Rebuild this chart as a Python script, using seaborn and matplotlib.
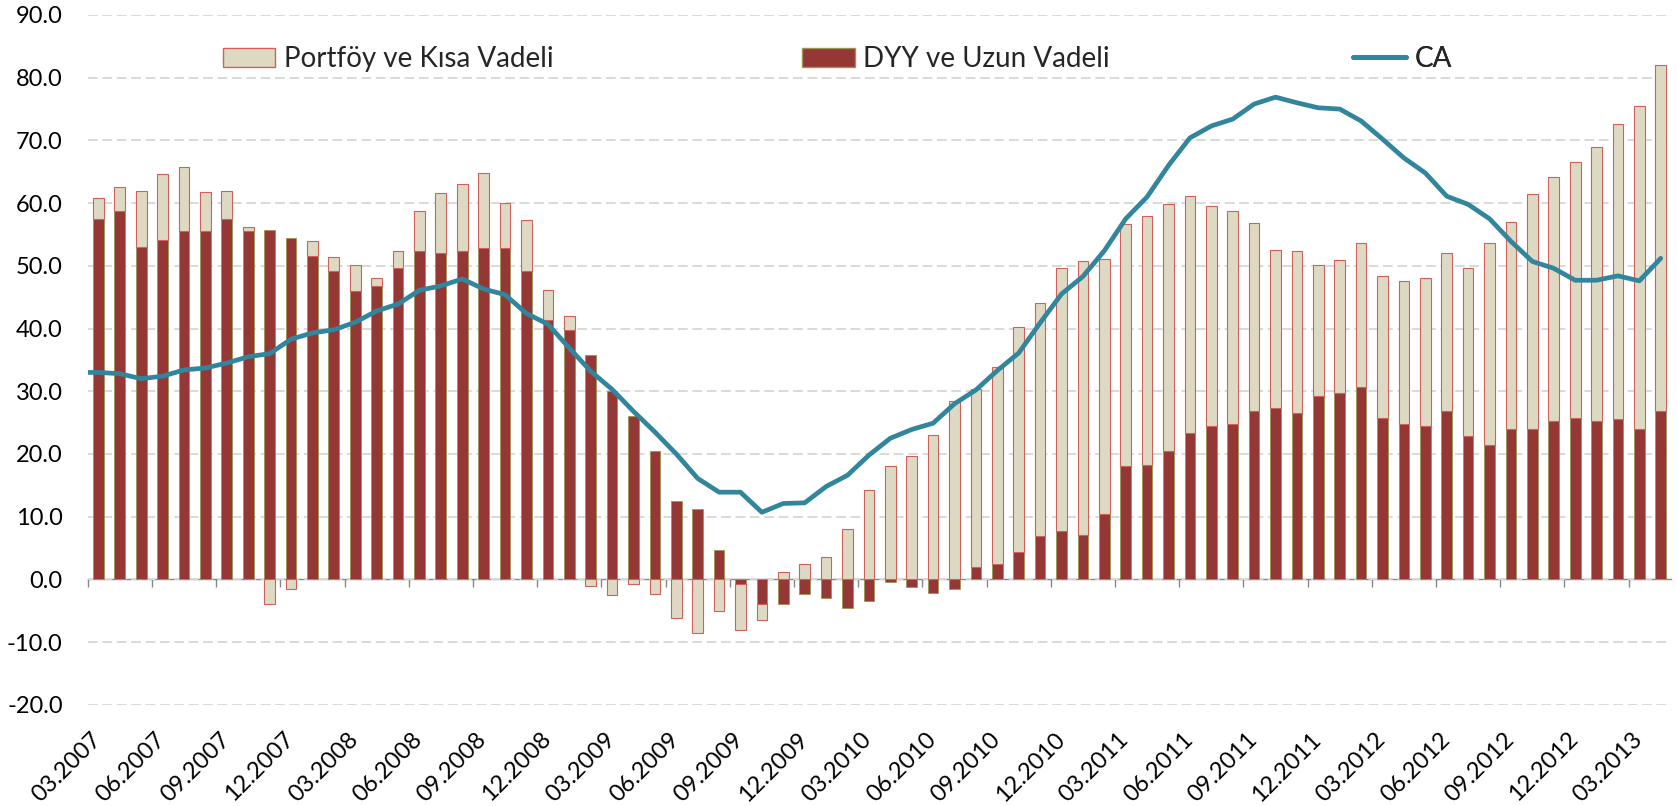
import numpy as np
import pandas as pd
import matplotlib
matplotlib.use('Agg')
import matplotlib.pyplot as plt
import matplotlib.transforms as mtransforms
import seaborn as sns
from matplotlib.patches import Patch
from matplotlib.lines import Line2D

# monthly categories 03.2007 - 04.2013
months = pd.period_range('2007-03', '2013-04', freq='M').strftime('%m.%Y').tolist()

# DYY ve Uzun Vadeli
dyy = [57.4, 58.8, 53.0, 54.1, 55.6, 55.6, 57.4, 55.6, 55.7, 54.4,
       51.6, 49.2, 46.0, 46.8, 49.7, 52.3, 52.1, 52.4, 52.9, 52.8,
       49.2, 41.4, 39.7, 35.8, 30.1, 26.0, 20.5, 12.5, 11.2, 4.7,
       -0.8, -3.9, -4.0, -2.4, -3.0, -4.5, -3.4, -0.5, -1.2, -2.1,
       -1.6, 1.9, 2.4, 4.4, 6.9, 7.7, 7.1, 10.4, 18.1, 18.2,
       20.5, 23.3, 24.4, 24.7, 26.8, 27.4, 26.6, 29.3, 29.7, 30.7,
       25.7, 24.8, 24.4, 26.8, 22.9, 21.4, 23.9, 23.9, 25.2, 25.8,
       25.3, 25.6, 23.9, 26.8]

# Portföy ve Kısa Vadeli
portfoy = [3.4, 3.7, 9.0, 10.6, 10.2, 6.2, 4.6, 0.6, -4.0, -1.5,
           2.3, 2.2, 4.1, 1.3, 2.6, 6.5, 9.5, 10.7, 11.9, 7.2,
           8.1, 4.7, 2.3, -1.1, -2.5, -0.8, -2.4, -6.1, -8.6, -5.0,
           -7.2, -2.6, 1.2, 2.5, 3.6, 8.1, 14.3, 18.0, 19.6, 23.0,
           28.5, 28.4, 31.4, 35.8, 37.1, 41.9, 43.6, 40.7, 38.5, 39.8,
           39.4, 37.8, 35.1, 34.0, 30.1, 25.2, 25.8, 20.9, 21.3, 22.9,
           22.7, 22.7, 23.6, 25.2, 26.7, 32.3, 33.1, 37.6, 38.9, 40.8,
           43.7, 47.0, 51.6, 55.3]

# CA (series starts at 02.2007, the first point falls left of the axis and gets clipped)
ca = [33.0,
      33.0, 32.8, 32.0, 32.4, 33.4, 33.7, 34.5, 35.5, 36.0, 38.3,
      39.3, 39.8, 41.0, 42.8, 43.9, 46.1, 46.8, 47.9, 46.3, 45.4,
      42.4, 40.7, 36.9, 33.2, 30.3, 26.8, 23.5, 20.0, 16.1, 13.9,
      13.9, 10.7, 12.1, 12.2, 14.8, 16.6, 19.8, 22.5, 23.9, 24.9,
      28.0, 30.2, 33.3, 36.1, 40.9, 45.5, 48.3, 52.4, 57.5, 61.0,
      66.0, 70.4, 72.3, 73.4, 75.8, 76.9, 76.0, 75.2, 75.0, 73.1,
      70.2, 67.2, 64.8, 61.1, 59.8, 57.5, 53.9, 50.7, 49.6, 47.7,
      47.7, 48.4, 47.6, 51.2]

tick_labels = ['03.2007', '06.2007', '09.2007', '12.2007', '03.2008', '06.2008',
               '09.2008', '12.2008', '03.2009', '06.2009', '09.2009', '12.2009',
               '03.2010', '06.2010', '09.2010', '12.2010', '03.2011', '06.2011',
               '09.2011', '12.2011', '03.2012', '06.2012', '09.2012', '12.2012',
               '03.2013']

RED = '#953735'
RED_EDGE = '#9C9456'
BEIGE = '#DDD9C3'
BEIGE_EDGE = '#D0605C'
TEAL = '#31859C'
GRID = '#D9D9D9'
AXIS = '#868686'

sns.set_style('white')
plt.rcParams['font.family'] = ['Lato', 'DejaVu Sans']

df = pd.DataFrame({'month': months, 'dyy': dyy, 'portfoy': portfoy})
# excel style stacking: positives on positives, negatives on negatives
same_sign = np.sign(df['portfoy']) == np.sign(df['dyy'])
df['base'] = np.where(same_sign, df['dyy'], 0.0)

fig, ax = plt.subplots(figsize=(16.77, 8.06), dpi=100)
fig.subplots_adjust(left=0.0523, right=0.9967, bottom=0.1256, top=0.9814)

sns.barplot(data=df, x='month', y='dyy', color=RED, saturation=1, width=0.5,
            edgecolor=RED_EDGE, linewidth=0.6, errorbar=None, ax=ax)
sns.barplot(data=df, x='month', y='portfoy', bottom=df['base'].to_numpy(), color=BEIGE,
            saturation=1, width=0.5, edgecolor=BEIGE_EDGE, linewidth=0.8,
            errorbar=None, ax=ax)
sns.lineplot(x=np.arange(len(ca)) - 1, y=ca, color=TEAL, linewidth=3.4, ax=ax, zorder=5)

ymin, ymax = -20, 90
ax.set_xlim(-0.5, len(months) - 0.5)
ax.set_ylim(ymin, ymax)
ax.set_yticks(range(ymin, ymax + 1, 10))
ax.set_yticklabels([f'{v:.1f}' for v in range(ymin, ymax + 1, 10)])
ax.set_xticks(range(0, len(months), 3), labels=tick_labels, rotation=45, ha='right')
ax.tick_params(axis='both', length=0, labelsize=17, labelcolor='black')
ax.tick_params(axis='y', pad=18)
ax.tick_params(axis='x', pad=17)
ax.set_xlabel('')
ax.set_ylabel('')
for s in ax.spines.values():
    s.set_visible(False)

# nudge rotated labels so the ink ends at the category centre
shift = mtransforms.ScaledTranslation(7 / 100, 0, fig.dpi_scale_trans)
for lbl in ax.get_xticklabels():
    lbl.set_transform(lbl.get_transform() + shift)

ax.yaxis.grid(True, color=GRID, linestyle=(0, (5, 2.4)), linewidth=1.4)
ax.set_axisbelow(True)

# category axis crossing at zero, tick marks between categories
zero_pos = (0 - ymin) / (ymax - ymin)
sec = ax.secondary_xaxis(zero_pos)
sec.set_xticks(np.arange(-0.5, len(months), 3))
sec.tick_params(length=6, width=1, color=AXIS, labelbottom=False, labeltop=False)
sec.spines['bottom'].set_color(AXIS)
sec.spines['bottom'].set_linewidth(1)

# legend entries spread across the top
legend_items = [
    (Patch(facecolor=BEIGE, edgecolor=BEIGE_EDGE), 'Portföy ve Kısa Vadeli', 0.0852),
    (Patch(facecolor=RED, edgecolor=RED_EDGE), 'DYY ve Uzun Vadeli', 0.451),
    (Line2D([], [], color=TEAL, linewidth=3.4), 'CA', 0.799),
]
for handle, label, xpos in legend_items:
    leg = ax.legend(handles=[handle], labels=[label], loc='center left',
                    bbox_to_anchor=(xpos, 0.936), frameon=False, borderpad=0,
                    borderaxespad=0, handlelength=1.9, handletextpad=0.3, fontsize=20)
    ax.add_artist(leg)

plt.savefig('out.png', dpi=100)
